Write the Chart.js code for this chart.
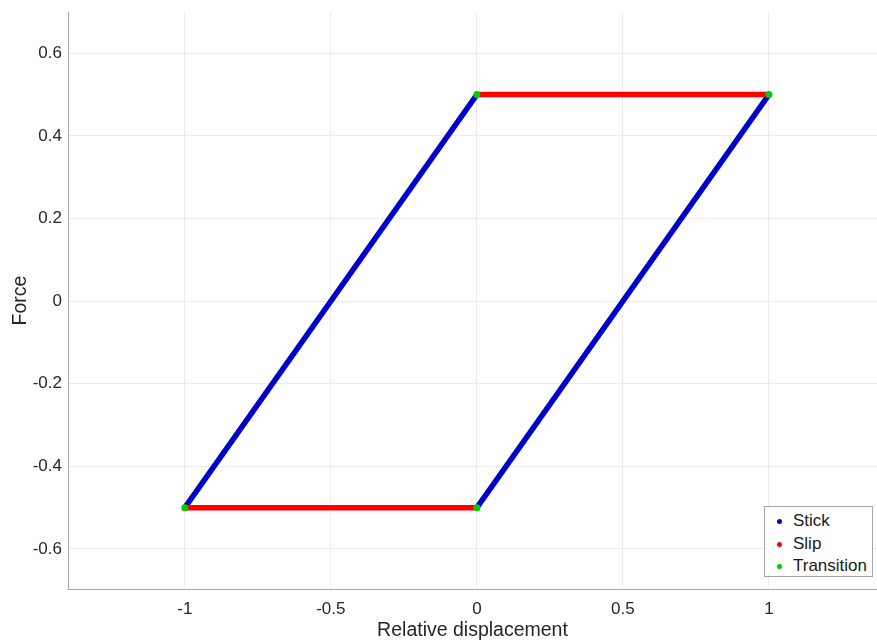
<!DOCTYPE html>
<html>
<head>
<meta charset="utf-8">
<script src="https://cdn.jsdelivr.net/npm/chart.js@4/dist/chart.umd.min.js"></script>
<style>
  body { margin: 0; background: #fff; }
  #wrap { position: relative; width: 877px; height: 643px; }
  #legend {
    position: absolute; left: 764px; top: 506px; width: 107px; height: 69px;
    border: 1px solid #a6a6a6; background: #fff;
    font-family: "Liberation Sans", Arial, sans-serif; font-size: 17px; color: #1a1a1a;
  }
  .item { position: absolute; left: 0; height: 22px; line-height: 22px; }
  .dot { position: absolute; left: 12px; top: 9px; width: 5px; height: 5px; border-radius: 50%; }
  .lbl { position: absolute; left: 28px; top: 0; white-space: nowrap; }
</style>
</head>
<body>
<div id="wrap">
  <canvas id="myChart" width="877" height="643"></canvas>
  <div id="legend"></div>
</div>
<script>
// series names and colours
const nomes = ['Stick', 'Slip', 'Transition'];
const cores = ['#0000cc', '#ff0000', '#00cc00'];

// stick branches (two straight segments)
const stickA_x = [-1, 0];
const stickA_y = [-0.5, 0.5];
const stickB_x = [0, 1];
const stickB_y = [-0.5, 0.5];

// slip branches
const slipA_x = [0, 1];
const slipA_y = [0.5, 0.5];
const slipB_x = [-1, 0];
const slipB_y = [-0.5, -0.5];

// transition points (corners)
const transX = [-1, 0, 0, 1];
const transY = [-0.5, -0.5, 0.5, 0.5];

// tick labels
const xTicks = [-1, -0.5, 0, 0.5, 1];
const yTicks = [-0.6, -0.4, -0.2, 0, 0.2, 0.4, 0.6];

function pontos(xs, ys) {
    return xs.map((x, i) => ({ x: x, y: ys[i] }));
}

function linha(xs, ys, cor, ordem) {
    return {
        data: pontos(xs, ys),
        showLine: true,
        borderColor: cor,
        backgroundColor: cor,
        borderWidth: 5.5,
        pointRadius: 0,
        order: ordem
    };
}

function semPadding(s) {
    s.paddingLeft = 0; s.paddingRight = 0; s.paddingTop = 0; s.paddingBottom = 0;
}

const fonte = '"Liberation Sans", Arial, sans-serif';
const corTexto = '#262626';

const ctx = document.getElementById('myChart');
new Chart(ctx, {
    type: 'scatter',
    data: {
        datasets: [
            linha(stickA_x, stickA_y, cores[0], 3),
            linha(stickB_x, stickB_y, cores[0], 3),
            linha(slipA_x, slipA_y, cores[1], 2),
            linha(slipB_x, slipB_y, cores[1], 2),
            {
                data: pontos(transX, transY),
                backgroundColor: cores[2],
                borderColor: cores[2],
                pointRadius: 3.5,
                pointBorderWidth: 0,
                order: 0
            }
        ]
    },
    options: {
        responsive: false,
        animation: false,
        layout: { autoPadding: false, padding: { top: 12, right: 0, left: 0, bottom: 0 } },
        plugins: {
            legend: { display: false },
            tooltip: { enabled: false }
        },
        scales: {
            x: {
                type: 'linear',
                min: -1.4,
                max: 1.37,
                afterBuildTicks: s => { s.ticks = xTicks.map(v => ({ value: v })); },
                afterFit: s => { s.height = 54; semPadding(s); },
                grid: { color: '#ececec', lineWidth: 1, drawTicks: false },
                border: { color: '#a6a6a6', width: 1 },
                ticks: {
                    padding: 10,
                    color: corTexto,
                    font: { family: fonte, size: 17 },
                    callback: v => String(v)
                },
                title: {
                    display: true,
                    text: 'Relative displacement',
                    color: corTexto,
                    font: { family: fonte, size: 19.5 },
                    padding: { top: 0, bottom: 1 }
                }
            },
            y: {
                type: 'linear',
                min: -0.697,
                max: 0.70,
                afterBuildTicks: s => { s.ticks = yTicks.map(v => ({ value: v })); },
                afterFit: s => { s.width = 68; semPadding(s); },
                grid: { color: '#ececec', lineWidth: 1, drawTicks: false },
                border: { color: '#a6a6a6', width: 1 },
                ticks: {
                    padding: 6,
                    color: corTexto,
                    font: { family: fonte, size: 17 },
                    callback: v => String(Math.round(v * 10) / 10)
                },
                title: {
                    display: true,
                    text: 'Force',
                    color: corTexto,
                    font: { family: fonte, size: 19.5 },
                    padding: { top: 9, bottom: 0 }
                }
            }
        }
    }
});

// legend box (inside the plot, bottom right)
const legenda = document.getElementById('legend');
nomes.forEach((nome, i) => {
    const item = document.createElement('div');
    item.className = 'item';
    item.style.top = (3 + i * 22.5) + 'px';
    item.innerHTML = '<span class="dot" style="background:' + cores[i] + '"></span><span class="lbl">' + nome + '</span>';
    legenda.appendChild(item);
});
</script>
</body>
</html>
